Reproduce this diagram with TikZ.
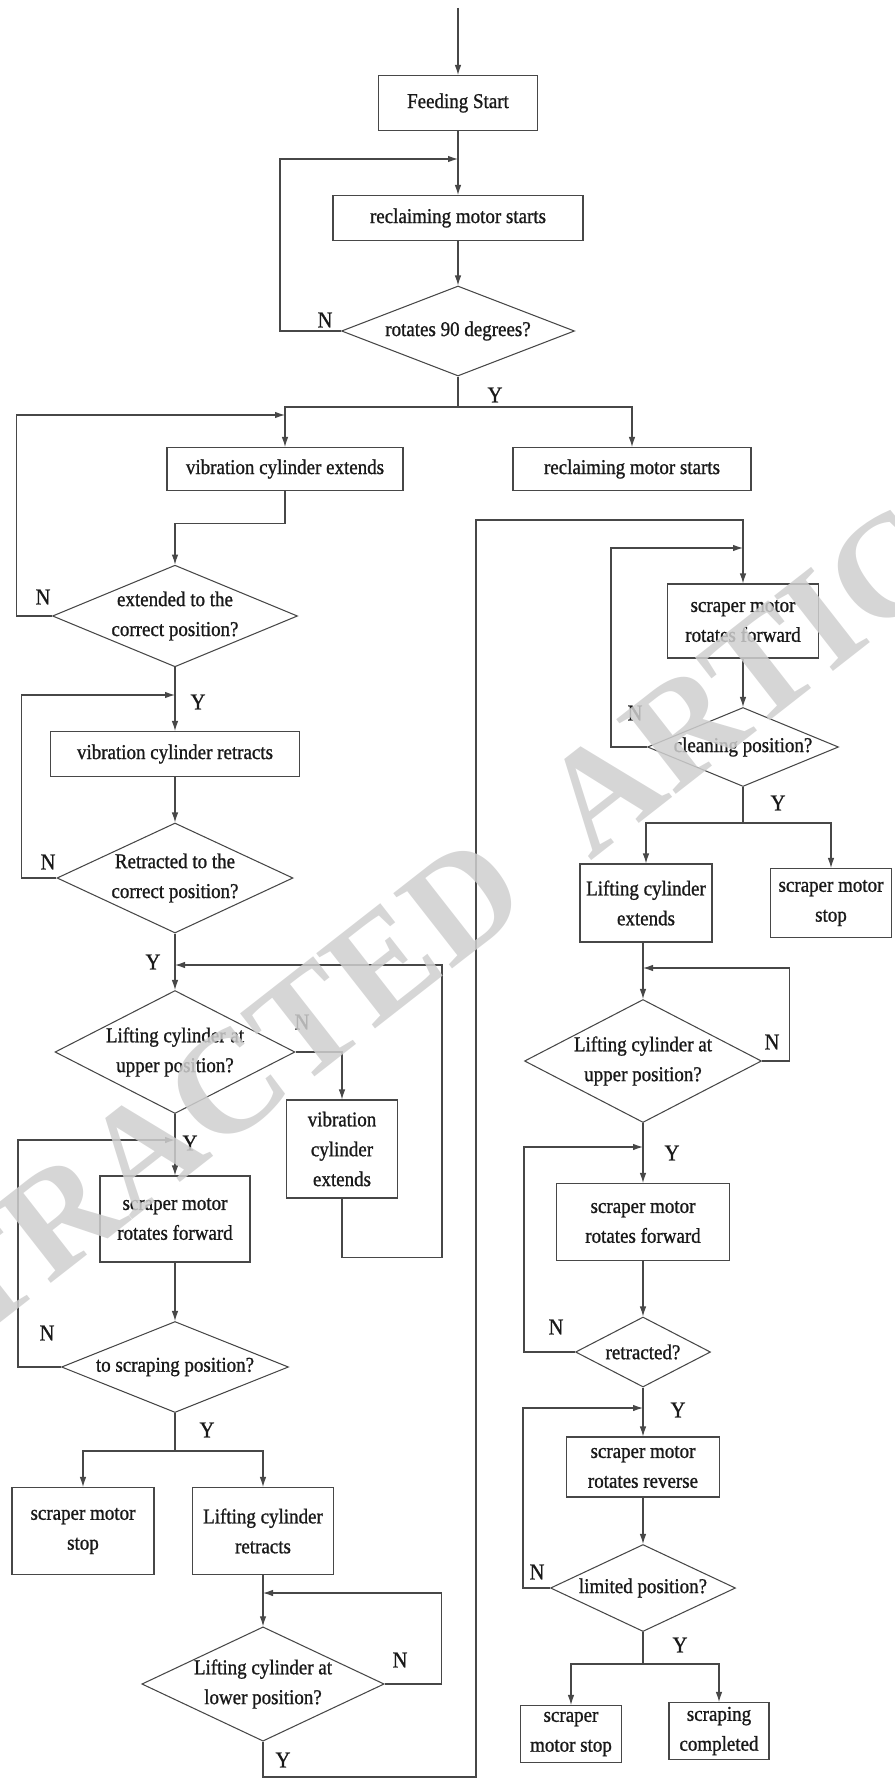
\documentclass[tikz,border=0pt]{standalone}
\usepackage{fontspec}
\setmainfont{Liberation Serif}[FakeStretch=0.9, FakeBold=1]
\newfontfamily\wmfont{Liberation Serif}
\usetikzlibrary{shapes.geometric,arrows.meta}

\begin{document}
\begin{tikzpicture}[x=0.02cm,y=-0.02cm,
	line width=0.6pt, color=black!72,
	>={Latex[length=2mm,width=1.3mm]},
	proc/.style 2 args={draw, rectangle, minimum width=#1*0.02cm, minimum height=#2*0.02cm,
		inner sep=1pt, align=center, text=black!90, font=\fontsize{12}{17}\selectfont},
	dec/.style n args={3}{draw, diamond, aspect=#3, minimum width=#1*0.02cm, minimum height=#2*0.02cm,
		inner sep=0pt, align=center, text=black!90, font=\fontsize{12}{17}\selectfont},
	yn/.style={text=black!90, font=\fontsize{13}{13}\selectfont},
	wm/.style={text=black!19, opacity=0.85, inner sep=0pt, font=\wmfont\bfseries\fontsize{83}{83}\selectfont}]

	\useasboundingbox (0,0) rectangle (895,1780);

	% left column
	\coordinate (start) at (458,8);
	\node[proc={159}{55}] (feed) at (458,103) {Feeding Start};
	\node[proc={250}{45}] (recA) at (458,218) {reclaiming motor starts};
	\node[dec={233}{90}{2.59}] (rot) at (458,331) {rotates 90 degrees?};
	\node[proc={236}{43}] (vibE) at (285,469) {vibration cylinder extends};
	\node[proc={238}{43}] (recB) at (632,469) {reclaiming motor starts};
	\node[dec={236}{98}{2.41}] (extQ) at (175,616) {extended to the\\correct position?};
	\node[proc={249}{45}] (vibR) at (175,754) {vibration cylinder retracts};
	\node[dec={236}{110}{2.15}] (retQ) at (175,878) {Retracted to the\\correct position?};
	\node[dec={240}{123}{1.95}] (upQL) at (175,1052) {Lifting cylinder at\\upper position?};
	\node[proc={111}{98}] (vibE2) at (342,1149) {vibration\\cylinder\\extends};
	\node[proc={150}{86}] (scrFL) at (175,1219) {scraper motor\\rotates forward};
	\node[dec={227}{91}{2.49}] (scrQ) at (175,1367) {to scraping position?};
	\node[proc={142}{87}] (stopL) at (83,1531) {scraper motor\\stop};
	\node[proc={141}{87}] (liftR) at (263,1531) {Lifting cylinder\\retracts};
	\node[dec={237}{112}{2.12}] (lowQ) at (263,1684) {Lifting cylinder at\\lower position?};

	% right column
	\node[proc={151}{74}] (scrFR) at (743,621) {scraper motor\\rotates forward};
	\node[dec={191}{79}{2.42}] (cleanQ) at (743,747) {cleaning position?};
	\node[proc={132}{78}] (liftE) at (646,903) {Lifting cylinder\\extends};
	\node[proc={121}{69}] (stopR) at (831,903) {scraper motor\\stop};
	\node[dec={237}{123}{1.93}] (upQR) at (643,1061) {Lifting cylinder at\\upper position?};
	\node[proc={173}{77}] (scrFR2) at (643,1222) {scraper motor\\rotates forward};
	\node[dec={135}{70}{1.93}] (retrQ) at (643,1352) {retracted?};
	\node[proc={153}{60}] (scrRev) at (643,1467) {scraper motor\\rotates reverse};
	\node[dec={185}{87}{2.13}] (limQ) at (643,1588) {limited position?};
	\node[proc={101}{57}] (stopR2) at (571,1734) {scraper\\motor stop};
	\node[proc={100}{57}] (done) at (719,1731) {scraping\\completed};

	% junctions
	\coordinate (j1) at (458,159);
	\coordinate (br1) at (458,407);
	\coordinate (j2) at (285,415);
	\coordinate (j3) at (175,695);
	\coordinate (j4) at (175,965);
	\coordinate (j5) at (175,1140);
	\coordinate (br2) at (175,1451);
	\coordinate (j6) at (263,1593);
	\coordinate (c1) at (476,1777);
	\coordinate (c2) at (476,520);
	\coordinate (j7) at (743,548);
	\coordinate (br3) at (743,823);
	\coordinate (j8) at (643,968);
	\coordinate (j9) at (643,1147);
	\coordinate (j10) at (643,1408);
	\coordinate (br4) at (643,1664);

	% connectors, left part
	\draw[->] (start) -- (feed);
	\draw[->] (feed) -- (recA);
	\draw[->] (recA) -- (rot);
	\draw[->] (rot.west) -- ++(-61,0) |- (j1);
	\draw (rot) -- (br1);
	\draw[->] (br1) -| (vibE);
	\draw[->] (br1) -| (recB);
	\draw[->] (vibE.south) -- ++(0,32) -| (extQ.north);
	\draw[->] (extQ.west) -- ++(-35,0) |- (j2);
	\draw[->] (extQ) -- (vibR);
	\draw[->] (vibR) -- (retQ);
	\draw[->] (retQ.west) -- ++(-35,0) |- (j3);
	\draw[->] (retQ) -- (upQL);
	\draw[->] (upQL.east) -| (vibE2);
	\draw[->] (vibE2.south) -- ++(0,59) -- ++(100,0) |- (j4);
	\draw[->] (upQL) -- (scrFL);
	\draw[->] (scrFL) -- (scrQ);
	\draw[->] (scrQ.west) -- ++(-43,0) |- (j5);
	\draw (scrQ) -- (br2);
	\draw[->] (br2) -| (stopL);
	\draw[->] (br2) -| (liftR);
	\draw[->] (liftR) -- (lowQ);
	\draw[->] (lowQ.east) -- ++(57,0) |- (j6);
	\draw[->] (lowQ.south) |- (c1) -- (c2) -| (scrFR);

	% connectors, right part
	\draw[->] (scrFR) -- (cleanQ);
	\draw[->] (cleanQ.west) -- ++(-36,0) |- (j7);
	\draw (cleanQ) -- (br3);
	\draw[->] (br3) -| (liftE);
	\draw[->] (br3) -| (stopR);
	\draw[->] (liftE.south -| upQR.north) -- (upQR.north);
	\draw[->] (upQR.east) -- ++(27,0) |- (j8);
	\draw[->] (upQR) -- (scrFR2);
	\draw[->] (scrFR2) -- (retrQ);
	\draw[->] (retrQ.west) -- ++(-51,0) |- (j9);
	\draw[->] (retrQ) -- (scrRev);
	\draw[->] (scrRev) -- (limQ);
	\draw[->] (limQ.west) -- ++(-27,0) |- (j10);
	\draw (limQ) -- (br4);
	\draw[->] (br4) -| (stopR2);
	\draw[->] (br4) -| (done);

	% Y / N
	\node[yn] (n1) at (325,320) {N};
	\node[yn] (y1) at (495,395) {Y};
	\node[yn] (n2) at (43,597) {N};
	\node[yn] (y2) at (198,702) {Y};
	\node[yn] (n3) at (48,862) {N};
	\node[yn] (y3) at (153,962) {Y};
	\node[yn] (n4) at (302,1022) {N};
	\node[yn] (y4) at (190,1143) {Y};
	\node[yn] (n5) at (47,1333) {N};
	\node[yn] (y5) at (207,1430) {Y};
	\node[yn] (n6) at (400,1660) {N};
	\node[yn] (y6) at (283,1760) {Y};
	\node[yn] (n7) at (635,713) {N};
	\node[yn] (y7) at (778,803) {Y};
	\node[yn] (n8) at (772,1042) {N};
	\node[yn] (y8) at (672,1153) {Y};
	\node[yn] (n9) at (556,1327) {N};
	\node[yn] (y9) at (678,1410) {Y};
	\node[yn] (n10) at (537,1572) {N};
	\node[yn] (y10) at (680,1645) {Y};

	\node[wm, rotate=38] (stamp) at (432,925) {RETRACTED\hspace{0.5em}ARTICLE};
\end{tikzpicture}
\end{document}
